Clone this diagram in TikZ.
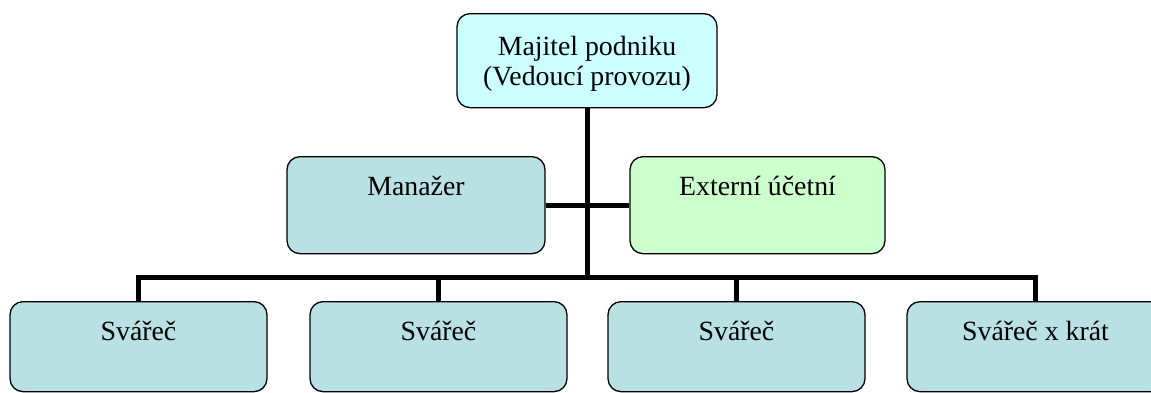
\documentclass[tikz,border=0pt]{standalone}
\usepackage{fontspec}
\setmainfont{Liberation Serif}
\usepackage{tikz}
\definecolor{ownfill}{RGB}{204,255,255}
\definecolor{staff}{RGB}{185,224,227}
\definecolor{extfill}{RGB}{204,255,204}
\tikzset{ box/.style={draw,line width=1.3pt,rounded corners=13pt,anchor=north,inner sep=0pt,align=center,font=\fontsize{27.8}{30}\selectfont} }
\tikzset{ conn/.style={line width=5pt} }

\begin{document}
\begin{tikzpicture}[x=1pt,y=-1pt]
  \useasboundingbox (0,0) rectangle (1151,392);
  \node[box,fill=ownfill,minimum width=260pt,text height=72pt,text depth=22pt] (own) at (587,13) {Majitel podniku\\(Vedoucí provozu)};
  \node[box,fill=staff,minimum width=258pt,text height=39pt,text depth=58pt] (man) at (416,156) {Manažer};
  \node[box,fill=extfill,minimum width=255pt,text height=39pt,text depth=58pt] (ext) at (757.5,156) {Externí účetní};
  \node[box,fill=staff,minimum width=257pt,text height=39pt,text depth=51pt] (sv1) at (138.5,301) {Svářeč};
  \node[box,fill=staff,minimum width=257pt,text height=39pt,text depth=51pt] (sv2) at (438.5,301) {Svářeč};
  \node[box,fill=staff,minimum width=257pt,text height=39pt,text depth=51pt] (sv3) at (736.5,301) {Svářeč};
  \node[box,fill=staff,minimum width=257pt,text height=39pt,text depth=51pt] (sv4) at (1035.5,301) {Svářeč x krát};
  \coordinate (bus) at (587,277);
  \draw[conn] (own.south) -- (bus);
  \draw[conn] (man.east) -- (ext.west);
  \draw[conn] (sv1.north) -- (sv1.north |- bus) -- (sv4.north |- bus) -- (sv4.north);
  \draw[conn] (sv2.north) -- (sv2.north |- bus);
  \draw[conn] (sv3.north) -- (sv3.north |- bus);
\end{tikzpicture}
\end{document}
